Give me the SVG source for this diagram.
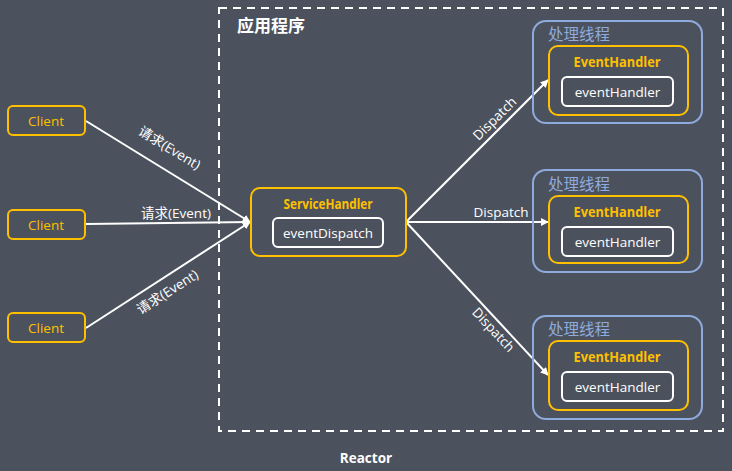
<svg xmlns="http://www.w3.org/2000/svg" width="732" height="471" viewBox="0 0 732 471">
<defs>
<style>
.bg{fill:#4c525d}
.y{fill:none;stroke:#FFC000;stroke-width:2}
.w{fill:none;stroke:#ffffff;stroke-width:2}
.b{fill:none;stroke:#8FAADC;stroke-width:2}
.t{font-family:"Open Sans","Noto Sans CJK SC",sans-serif;font-size:13.5px;text-anchor:middle}
.cl{fill:#FFC000}
.wt{fill:#ffffff}
.bt{fill:#8FAADC;font-family:"Noto Sans CJK SC",sans-serif;font-size:15.5px}
.bold{font-weight:bold}
.ln{stroke:#ffffff;stroke-width:2;fill:none}
.lbl{font-family:"Open Sans","Noto Sans CJK SC",sans-serif;font-size:13.5px;fill:#ffffff;text-anchor:middle}
</style>
<marker id="ah" viewBox="0 0 10 10" refX="9" refY="5" markerWidth="4" markerHeight="4" orient="auto" markerUnits="strokeWidth">
<path d="M0,0 L10,5 L0,10 z" fill="#ffffff"/>
</marker>
</defs>
<rect class="bg" x="0" y="0" width="732" height="471"/>
<g id="reactor">
<rect x="219" y="8" width="504" height="423" fill="none" stroke="#ffffff" stroke-width="2" stroke-dasharray="8,6"/>
<text x="237" y="32" font-family="Noto Sans CJK SC,sans-serif" font-size="17" font-weight="bold" fill="#ffffff">应用程序</text>
<text x="366" y="463" class="t bold wt" font-size="15">Reactor</text>
</g>
<g id="connectors">
<line class="ln" x1="86" y1="121" x2="250" y2="222" marker-end="url(#ah)"/>
<line class="ln" x1="86" y1="224" x2="250" y2="222" marker-end="url(#ah)"/>
<line class="ln" x1="86" y1="328" x2="250" y2="222" marker-end="url(#ah)"/>
<line class="ln" x1="406" y1="222" x2="548" y2="80" marker-end="url(#ah)"/>
<line class="ln" x1="406" y1="222" x2="548" y2="222" marker-end="url(#ah)"/>
<line class="ln" x1="406" y1="222" x2="548" y2="375" marker-end="url(#ah)"/>
<text class="lbl" font-size="14" transform="translate(167,152) rotate(31.3)">请求(Event)</text>
<text class="lbl" font-size="14" x="176" y="218">请求(Event)</text>
<text class="lbl" font-size="14" transform="translate(170,296) rotate(-32.6)">请求(Event)</text>
<text class="lbl" transform="translate(498,122) rotate(-44.8)">Dispatch</text>
<text class="lbl" x="501" y="217">Dispatch</text>
<text class="lbl" transform="translate(490,333) rotate(46.9)">Dispatch</text>
</g>
<g id="client1">
<rect class="y" x="8" y="106" width="77" height="29" rx="5"/>
<text class="t cl" x="46" y="125.5">Client</text>
</g>
<g id="client2">
<rect class="y" x="8" y="210" width="77" height="29" rx="5"/>
<text class="t cl" x="46" y="229.5">Client</text>
</g>
<g id="client3">
<rect class="y" x="8" y="313" width="77" height="29" rx="5"/>
<text class="t cl" x="46" y="332.5">Client</text>
</g>
<g id="serviceHandler">
<rect class="y" x="251" y="188" width="155" height="68" rx="9"/>
<text class="t cl bold" x="328" y="208.5" font-size="13" textLength="89" lengthAdjust="spacingAndGlyphs">ServiceHandler</text>
<rect class="w" x="273" y="218" width="110" height="29" rx="5"/>
<text class="t wt" x="328" y="237.5" font-size="14">eventDispatch</text>
</g>
<g id="thread1">
<rect class="b" x="533" y="21" width="169" height="102" rx="13"/>
<text class="bt" x="548" y="40">处理线程</text>
<rect class="y" x="549" y="46" width="139" height="69" rx="9"/>
<text class="t cl bold" x="617" y="67" font-size="13" textLength="87" lengthAdjust="spacingAndGlyphs">EventHandler</text>
<rect class="w" x="562" y="77" width="111" height="29" rx="5"/>
<text class="t wt" x="617.5" y="96.5" font-size="14">eventHandler</text>
</g>
<g id="thread2">
<rect class="b" x="533" y="170" width="169" height="102" rx="13"/>
<text class="bt" x="548" y="190">处理线程</text>
<rect class="y" x="549" y="196" width="139" height="67" rx="9"/>
<text class="t cl bold" x="617" y="217" font-size="13" textLength="87" lengthAdjust="spacingAndGlyphs">EventHandler</text>
<rect class="w" x="562" y="227" width="111" height="29" rx="5"/>
<text class="t wt" x="617.5" y="246.5" font-size="14">eventHandler</text>
</g>
<g id="thread3">
<rect class="b" x="533" y="316" width="169" height="103" rx="13"/>
<text class="bt" x="548" y="335">处理线程</text>
<rect class="y" x="549" y="341" width="139" height="69" rx="9"/>
<text class="t cl bold" x="617" y="362" font-size="13" textLength="87" lengthAdjust="spacingAndGlyphs">EventHandler</text>
<rect class="w" x="562" y="372" width="111" height="29" rx="5"/>
<text class="t wt" x="617.5" y="391.5" font-size="14">eventHandler</text>
</g>
</svg>
